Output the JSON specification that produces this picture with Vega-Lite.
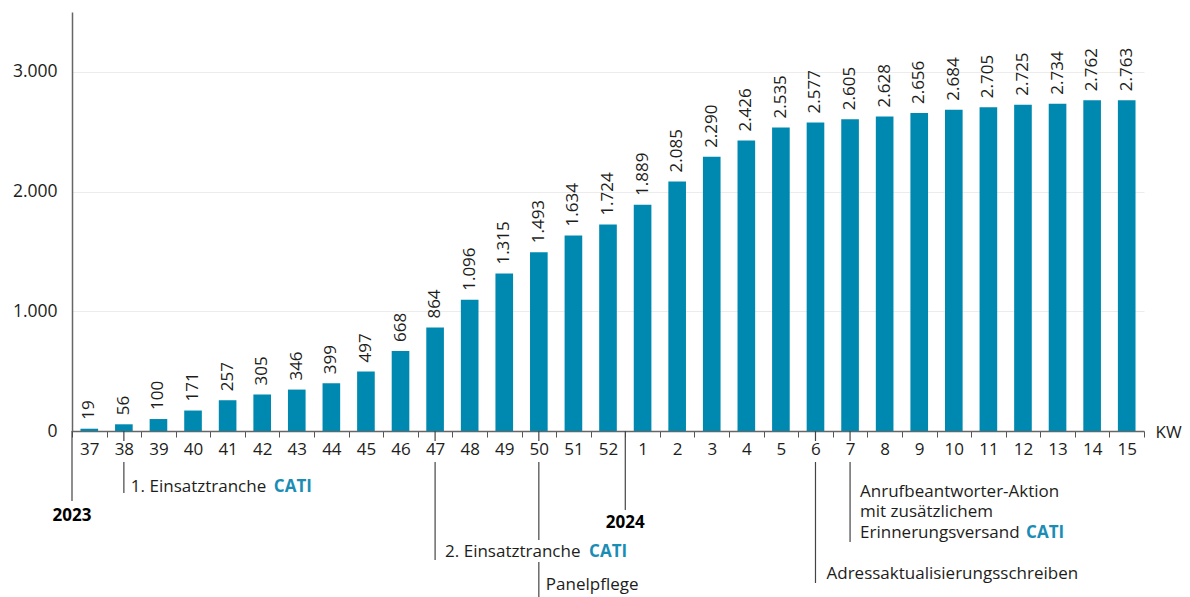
{
  "$schema": "https://vega.github.io/schema/vega-lite/v6.json",
  "width": 1072,
  "height": 419,
  "autosize": {"type": "none"},
  "padding": {"left": 72, "top": 12, "right": 46, "bottom": 166},
  "background": "white",
  "config": {
    "locale": {"number": {"decimal": ",", "thousands": ".", "grouping": [3], "currency": ["", " €"]}},
    "font": "Open Sans",
    "view": {"stroke": null},
    "text": {"font": "Open Sans", "color": "#1d1d1b"}
  },
  "datasets": {
    "kw": [
      {"kw": "37", "n": 19}, {"kw": "38", "n": 56}, {"kw": "39", "n": 100}, {"kw": "40", "n": 171},
      {"kw": "41", "n": 257}, {"kw": "42", "n": 305}, {"kw": "43", "n": 346}, {"kw": "44", "n": 399},
      {"kw": "45", "n": 497}, {"kw": "46", "n": 668}, {"kw": "47", "n": 864}, {"kw": "48", "n": 1096},
      {"kw": "49", "n": 1315}, {"kw": "50", "n": 1493}, {"kw": "51", "n": 1634}, {"kw": "52", "n": 1724},
      {"kw": "1", "n": 1889}, {"kw": "2", "n": 2085}, {"kw": "3", "n": 2290}, {"kw": "4", "n": 2426},
      {"kw": "5", "n": 2535}, {"kw": "6", "n": 2577}, {"kw": "7", "n": 2605}, {"kw": "8", "n": 2628},
      {"kw": "9", "n": 2656}, {"kw": "10", "n": 2684}, {"kw": "11", "n": 2705}, {"kw": "12", "n": 2725},
      {"kw": "13", "n": 2734}, {"kw": "14", "n": 2762}, {"kw": "15", "n": 2763}
    ],
    "lines": [
      {"kw": "37", "at": "start", "d1": 0, "d2": 70},
      {"kw": "1", "at": "start", "d1": 0, "d2": 79},
      {"kw": "38", "at": "mid", "d1": 0, "d2": 10}, {"kw": "38", "at": "mid", "d1": 31, "d2": 62},
      {"kw": "47", "at": "mid", "d1": 0, "d2": 10}, {"kw": "47", "at": "mid", "d1": 31, "d2": 129},
      {"kw": "50", "at": "mid", "d1": 0, "d2": 10}, {"kw": "50", "at": "mid", "d1": 31, "d2": 109},
      {"kw": "50", "at": "mid", "d1": 131, "d2": 166},
      {"kw": "6", "at": "mid", "d1": 0, "d2": 10}, {"kw": "6", "at": "mid", "d1": 31, "d2": 152},
      {"kw": "7", "at": "mid", "d1": 0, "d2": 10}, {"kw": "7", "at": "mid", "d1": 31, "d2": 111}
    ],
    "notes": [
      {"kw": "38", "grp": "a", "text": "1. Einsatztranche", "d": 56},
      {"kw": "50", "grp": "a", "text": "Panelpflege", "d": 154},
      {"kw": "47", "grp": "b", "text": "2. Einsatztranche", "d": 121},
      {"kw": "7", "grp": "b", "text": "Anrufbeantworter-Aktion", "d": 61},
      {"kw": "7", "grp": "b", "text": "mit zusätzlichem", "d": 81},
      {"kw": "7", "grp": "b", "text": "Erinnerungsversand", "d": 102},
      {"kw": "6", "grp": "c", "text": "Adressaktualisierungsschreiben", "d": 143},
      {"kw": "37", "grp": "year", "text": "2023", "d": 85},
      {"kw": "1", "grp": "year", "text": "2024", "d": 92},
      {"kw": "38", "grp": "cati1", "text": "CATI", "d": 56},
      {"kw": "47", "grp": "cati2", "text": "CATI", "d": 121},
      {"kw": "7", "grp": "cati3", "text": "CATI", "d": 102}
    ]
  },
  "encoding": {
    "x": {
      "field": "kw", "type": "nominal",
      "scale": {
        "domain": ["37","38","39","40","41","42","43","44","45","46","47","48","49","50","51","52","1","2","3","4","5","6","7","8","9","10","11","12","13","14","15"],
        "paddingInner": 0, "paddingOuter": 0
      },
      "axis": {
        "title": "KW", "titleX": 1083, "titleY": 1, "titleAlign": "left", "titleBaseline": "middle",
        "titleFont": "Open Sans", "titleFontSize": 17, "titleFontWeight": "normal", "titleColor": "#1d1d1b",
        "labelAngle": 0, "labelFont": "Open Sans", "labelFontSize": 17, "labelColor": "#1d1d1b",
        "labelPadding": 4, "tickBand": "extent", "tickSize": 6, "tickColor": "#555555", "tickWidth": 1,
        "domainColor": "#666666", "domainWidth": 1.5, "grid": false
      }
    }
  },
  "layer": [
    {
      "layer": [
        {
          "data": {"name": "kw"},
          "mark": {"type": "bar", "color": "#0089b0", "width": {"band": 0.51}},
          "encoding": {
            "y": {
              "field": "n", "type": "quantitative",
              "scale": {"domain": [0, 3500], "nice": false},
              "axis": {
                "title": null, "values": [0, 1000, 2000, 3000], "format": ",d",
                "labelFont": "Open Sans", "labelFontSize": 17.5, "labelColor": "#1d1d1b", "labelPadding": 15,
                "ticks": false, "domainColor": "#666666", "domainWidth": 1.5,
                "grid": true, "gridColor": "#ececec", "gridWidth": 1
              }
            }
          }
        },
        {
          "data": {"name": "kw"},
          "mark": {"type": "text", "angle": -90, "align": "left", "baseline": "middle", "dx": 9, "fontSize": 17},
          "encoding": {
            "y": {"field": "n", "type": "quantitative"},
            "text": {"field": "n", "type": "quantitative", "format": ",d"}
          }
        }
      ]
    },
    {
      "layer": [
        {
          "data": {"name": "lines"},
          "transform": [{"filter": "datum.at === 'start'"}],
          "mark": {"type": "rule", "color": "#444444", "strokeWidth": 1.2},
          "encoding": {
            "x": {"field": "kw", "type": "nominal", "bandPosition": 0},
            "y": {"field": "d1", "type": "quantitative"},
            "y2": {"field": "d2"}
          }
        },
        {
          "data": {"name": "lines"},
          "transform": [{"filter": "datum.at === 'mid'"}],
          "mark": {"type": "rule", "color": "#444444", "strokeWidth": 1.2},
          "encoding": {
            "x": {"field": "kw", "type": "nominal"},
            "y": {"field": "d1", "type": "quantitative"},
            "y2": {"field": "d2"}
          }
        },
        {
          "data": {"name": "notes"},
          "transform": [{"filter": "datum.grp === 'a'"}],
          "mark": {"type": "text", "align": "left", "baseline": "middle", "dx": 7, "fontSize": 17},
          "encoding": {"y": {"field": "d", "type": "quantitative"}, "text": {"field": "text"}}
        },
        {
          "data": {"name": "notes"},
          "transform": [{"filter": "datum.grp === 'b'"}],
          "mark": {"type": "text", "align": "left", "baseline": "middle", "dx": 10, "fontSize": 17},
          "encoding": {"y": {"field": "d", "type": "quantitative"}, "text": {"field": "text"}}
        },
        {
          "data": {"name": "notes"},
          "transform": [{"filter": "datum.grp === 'c'"}],
          "mark": {"type": "text", "align": "left", "baseline": "middle", "dx": 11, "fontSize": 17},
          "encoding": {"y": {"field": "d", "type": "quantitative"}, "text": {"field": "text"}}
        },
        {
          "data": {"name": "notes"},
          "transform": [{"filter": "datum.grp === 'year'"}],
          "mark": {"type": "text", "align": "center", "baseline": "middle", "fontSize": 17, "fontWeight": "bold", "color": "#000000"},
          "encoding": {
            "x": {"field": "kw", "type": "nominal", "bandPosition": 0},
            "y": {"field": "d", "type": "quantitative"}, "text": {"field": "text"}
          }
        },
        {
          "data": {"name": "notes"},
          "transform": [{"filter": "datum.grp === 'cati1'"}],
          "mark": {"type": "text", "align": "left", "baseline": "middle", "dx": 150, "fontSize": 17, "fontWeight": "bold", "color": "#1a8db5"},
          "encoding": {"y": {"field": "d", "type": "quantitative"}, "text": {"field": "text"}}
        },
        {
          "data": {"name": "notes"},
          "transform": [{"filter": "datum.grp === 'cati2'"}],
          "mark": {"type": "text", "align": "left", "baseline": "middle", "dx": 154, "fontSize": 17, "fontWeight": "bold", "color": "#1a8db5"},
          "encoding": {"y": {"field": "d", "type": "quantitative"}, "text": {"field": "text"}}
        },
        {
          "data": {"name": "notes"},
          "transform": [{"filter": "datum.grp === 'cati3'"}],
          "mark": {"type": "text", "align": "left", "baseline": "middle", "dx": 176, "fontSize": 17, "fontWeight": "bold", "color": "#1a8db5"},
          "encoding": {"y": {"field": "d", "type": "quantitative"}, "text": {"field": "text"}}
        }
      ],
      "encoding": {
        "y": {"scale": {"domain": [0, 166], "range": [419, 585], "nice": false, "zero": false}, "axis": null}
      }
    }
  ],
  "resolve": {"scale": {"y": "independent"}}
}
